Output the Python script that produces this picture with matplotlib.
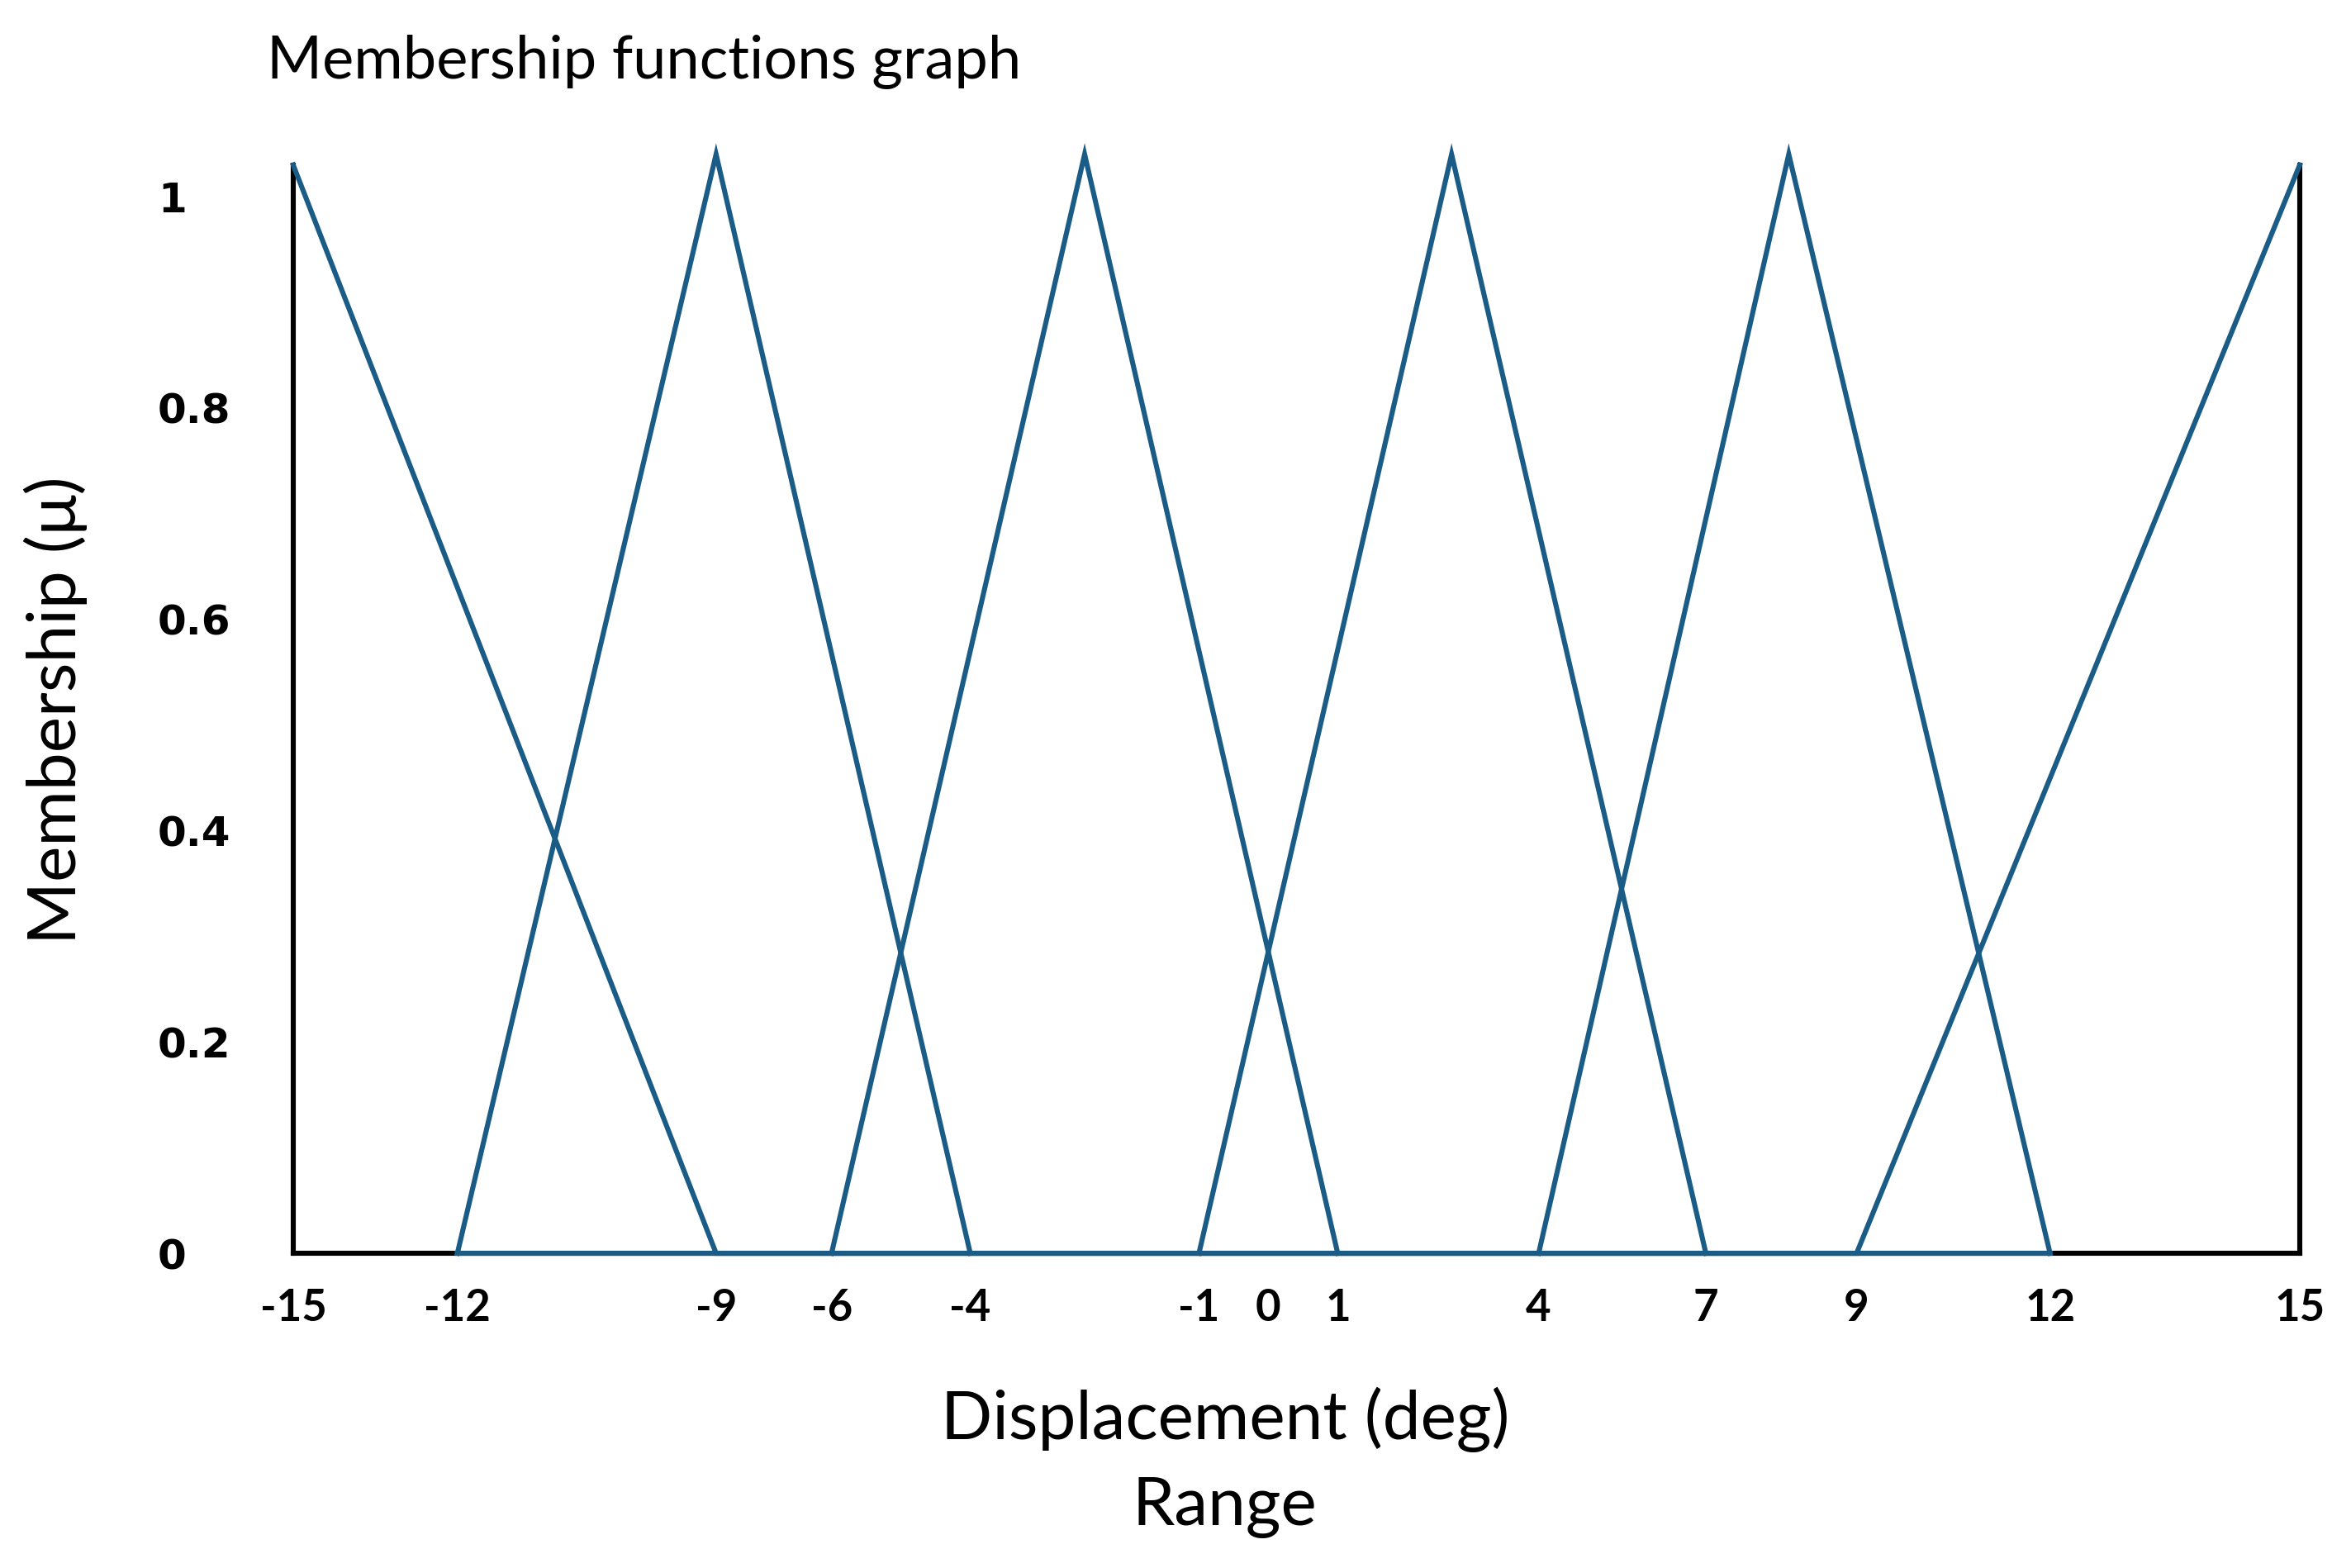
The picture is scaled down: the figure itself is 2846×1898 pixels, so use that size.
"""
plot.py
───────
Triangular membership functions for displacement (deg), drawn on the
uneven range axis used in the original figure.
"""

import numpy as np
import matplotlib
matplotlib.use("Agg")          # headless backend
import matplotlib.pyplot as plt
from matplotlib.ticker import NullLocator

# ── Data ──────────────────────────────────────────────────────────────
X_TICKS = [-15, -12, -9, -6, -4, -1, 0, 1, 4, 7, 9, 12, 15]
Y_TICKS = [0, 0.2, 0.4, 0.6, 0.8, 1]
Y_TICK_LABELS = ["0", "0.2", "0.4", "0.6", "0.8", "1"]

# vertices of each membership function (x in deg, y = membership)
MF1_X = [-15, -9, 12]
MF1_Y = [1.03, 0, 0]
MF2_X = [-12, -9, -4]
MF2_Y = [0, 1.04, 0]
MF3_X = [-6, -2.5, 1]
MF3_Y = [0, 1.04, 0]
MF4_X = [-1, 2.7, 7]
MF4_Y = [0, 1.04, 0]
MF5_X = [4, 8.1, 12]
MF5_Y = [0, 1.04, 0]
MF6_X = [-12, 9, 15]
MF6_Y = [0, 0, 1.03]

TITLE  = "Membership functions graph"
XLABEL = "Displacement (deg)"
XLABEL2 = "Range"
YLABEL = "Membership (\u03bc)"

# ── Layout / style ────────────────────────────────────────────────────
# the range axis is not linear: where each break value sits along it
SCALE_VALUES = [-15, -12, -9, -6, -4, -1, 1, 4, 7, 9, 12, 15]
SCALE_POS    = [196, 305.5, 478, 555, 647.5, 800, 892.5, 1026.5, 1138, 1238.5, 1367.5, 1534]

LINE_COLOR = "#1a5c86"
TEXT_FONT  = ["Lato", "DejaVu Sans"]


def fwd(x):
    return np.interp(x, SCALE_VALUES, SCALE_POS)


def inv(p):
    return np.interp(p, SCALE_POS, SCALE_VALUES)


# ── Figure ────────────────────────────────────────────────────────────
fig = plt.figure(figsize=(14.23, 9.49), dpi=200)
ax = fig.add_axes([0.1247, 0.2007, 0.8535, 0.7413])

ax.set_xscale("function", functions=(fwd, inv))
ax.set_xlim(-15, 15)
ax.set_ylim(0, 1.1)

for xs, ys in [(MF1_X, MF1_Y), (MF2_X, MF2_Y), (MF3_X, MF3_Y),
               (MF4_X, MF4_Y), (MF5_X, MF5_Y), (MF6_X, MF6_Y)]:
    ax.plot(xs, ys, color=LINE_COLOR, lw=2.2, zorder=3, clip_on=False,
            solid_joinstyle="miter")

# frame: open top, side walls only as tall as the edge functions
ax.spines["top"].set_visible(False)
for side in ["left", "right", "bottom"]:
    ax.spines[side].set_color("black")
    ax.spines[side].set_linewidth(2.2)
ax.spines["left"].set_bounds(0, MF1_Y[0])
ax.spines["right"].set_bounds(0, MF6_Y[-1])

# ticks
ax.set_xticks(X_TICKS)
ax.set_xticklabels([str(v) for v in X_TICKS])
ax.xaxis.set_minor_locator(NullLocator())
ax.set_yticks(Y_TICKS)
ax.set_yticklabels(Y_TICK_LABELS)
ax.tick_params(axis="x", length=0, pad=15)
ax.tick_params(axis="y", length=0, pad=59)
for t in ax.get_xticklabels():
    t.set_fontfamily(TEXT_FONT)
    t.set_fontweight("bold")
    t.set_fontsize(19)
for t in ax.get_yticklabels():
    t.set_fontfamily("DejaVu Sans")
    t.set_fontweight("bold")
    t.set_fontsize(18)
    t.set_horizontalalignment("left")

# labels / title as figure text
fig.text(0.1135, 0.950, TITLE, fontsize=26, family=TEXT_FONT, va="baseline")
fig.text(0.521, 0.0822, XLABEL, fontsize=29.5, family=TEXT_FONT,
         ha="center", va="baseline")
fig.text(0.521, 0.0274, XLABEL2, fontsize=29.5, family=TEXT_FONT,
         ha="center", va="baseline")
fig.text(0.0236, 0.547, YLABEL, fontsize=29.5, family=TEXT_FONT,
         rotation=90, ha="center", va="center")

fig.savefig("out.png", dpi=200)
plt.close(fig)
